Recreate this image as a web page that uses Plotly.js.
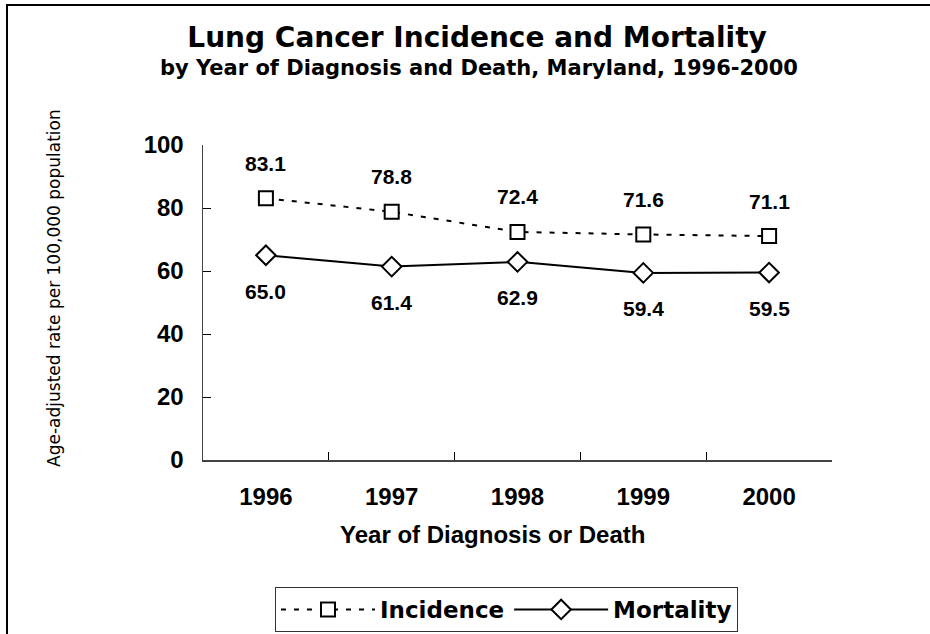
<!DOCTYPE html>
<html>
<head>
<meta charset="utf-8">
<script src="https://cdn.plot.ly/plotly-3.0.1.min.js"></script>
<style>
  html, body { margin: 0; padding: 0; background: #fff; overflow: hidden; }
  #chart { width: 930px; height: 634px; position: relative; }
  #frame { position: absolute; left: 6px; top: 4px; width: 1000px; height: 1000px;
           border-left: 2px solid #000; border-top: 2px solid #000; pointer-events: none; }
</style>
</head>
<body>
<div id="chart"></div>
<div id="frame"></div>
<script>
// ---- data ----
const years = ['1996', '1997', '1998', '1999', '2000'];
const incidence = [83.1, 78.8, 72.4, 71.6, 71.1];
const mortality = [65.0, 61.4, 62.9, 59.4, 59.5];
const seriesNames = ['Incidence', 'Mortality'];
const yTicks = [0, 20, 40, 60, 80, 100];

const titleText = 'Lung Cancer Incidence and Mortality';
const subtitleText = 'by Year of Diagnosis and Death, Maryland, 1996-2000';
const xTitleText = 'Year of Diagnosis or Death';
const yTitleText = 'Age-adjusted rate per 100,000 population';

const BOLD_ARIAL = 'Liberation Sans, Arial, sans-serif';
const TAHOMA = 'DejaVu Sans, Verdana, sans-serif';

const traces = [
  {
    x: years, y: incidence, name: seriesNames[0], type: 'scatter', mode: 'lines+markers',
    line: { color: '#000', width: 2, dash: '5px,8px' },
    marker: { symbol: 'square', size: 14, color: '#fff', line: { color: '#000', width: 2 } },
    cliponaxis: false
  },
  {
    x: years, y: mortality, name: seriesNames[1], type: 'scatter', mode: 'lines+markers',
    line: { color: '#000', width: 2 },
    marker: { symbol: 'diamond', size: 15, color: '#fff', line: { color: '#000', width: 2 } },
    cliponaxis: false
  }
];

const labelFont = { family: BOLD_ARIAL, size: 21, color: '#000', weight: 'bold' };
const annotations = [];
years.forEach((yr, i) => {
  annotations.push({ x: i, y: incidence[i], xref: 'x', yref: 'y', text: incidence[i].toFixed(1),
    showarrow: false, yshift: 35, font: labelFont });
  annotations.push({ x: i, y: mortality[i], xref: 'x', yref: 'y', text: mortality[i].toFixed(1),
    showarrow: false, yshift: -36, font: labelFont });
});
annotations.push({ text: subtitleText, xref: 'paper', yref: 'paper', x: 0.4388, y: 1.246,
  xanchor: 'center', yanchor: 'middle', showarrow: false,
  font: { family: TAHOMA, size: 21, color: '#000', weight: 'bold' } });
annotations.push({ text: xTitleText, xref: 'paper', yref: 'paper', x: 0.461, y: -0.235,
  xanchor: 'center', yanchor: 'middle', showarrow: false,
  font: { family: BOLD_ARIAL, size: 24, color: '#000', weight: 'bold' } });
annotations.push({ text: yTitleText, xref: 'paper', yref: 'paper', x: -0.237, y: 0.546,
  xanchor: 'center', yanchor: 'middle', showarrow: false, textangle: -90,
  font: { family: TAHOMA, size: 17, color: '#000' } });

const layout = {
  width: 930, height: 634,
  margin: { l: 203, r: 98, t: 145, b: 174, autoexpand: false },
  paper_bgcolor: '#fff', plot_bgcolor: '#fff',
  title: { text: titleText, x: 0.513, xref: 'container', xanchor: 'center',
    y: 0.9416, yref: 'container', yanchor: 'middle',
    font: { family: TAHOMA, size: 28, color: '#000', weight: 'bold' } },
  xaxis: {
    type: 'category', range: [-0.5, 4.5], showgrid: false, zeroline: false,
    showline: true, linecolor: '#444', linewidth: 1.5,
    ticks: 'inside', tickson: 'boundaries', ticklen: 8, tickcolor: '#000', tickwidth: 1,
    ticklabelstandoff: 15,
    tickfont: { family: BOLD_ARIAL, size: 24, color: '#000', weight: 'bold' },
    fixedrange: true
  },
  yaxis: {
    range: [0, 100], tickvals: yTicks, ticktext: yTicks.map(String),
    showgrid: false, zeroline: false,
    showline: true, linecolor: '#444', linewidth: 1.5,
    ticks: 'inside', ticklen: 8, tickcolor: '#000', tickwidth: 1,
    ticklabelstandoff: 13,
    tickfont: { family: BOLD_ARIAL, size: 24, color: '#000', weight: 'bold' },
    fixedrange: true
  },
  showlegend: true,
  legend: {
    orientation: 'h', x: 0.4825, xanchor: 'center', y: -0.4032, yanchor: 'top',
    bordercolor: '#333', borderwidth: 1, bgcolor: '#fff',
    font: { family: TAHOMA, size: 23, color: '#000', weight: 'bold' },
    itemwidth: 94, tracegroupgap: 0
  },
  annotations: annotations
};

Plotly.newPlot('chart', traces, layout, { displayModeBar: false, staticPlot: true });
</script>
</body>
</html>
